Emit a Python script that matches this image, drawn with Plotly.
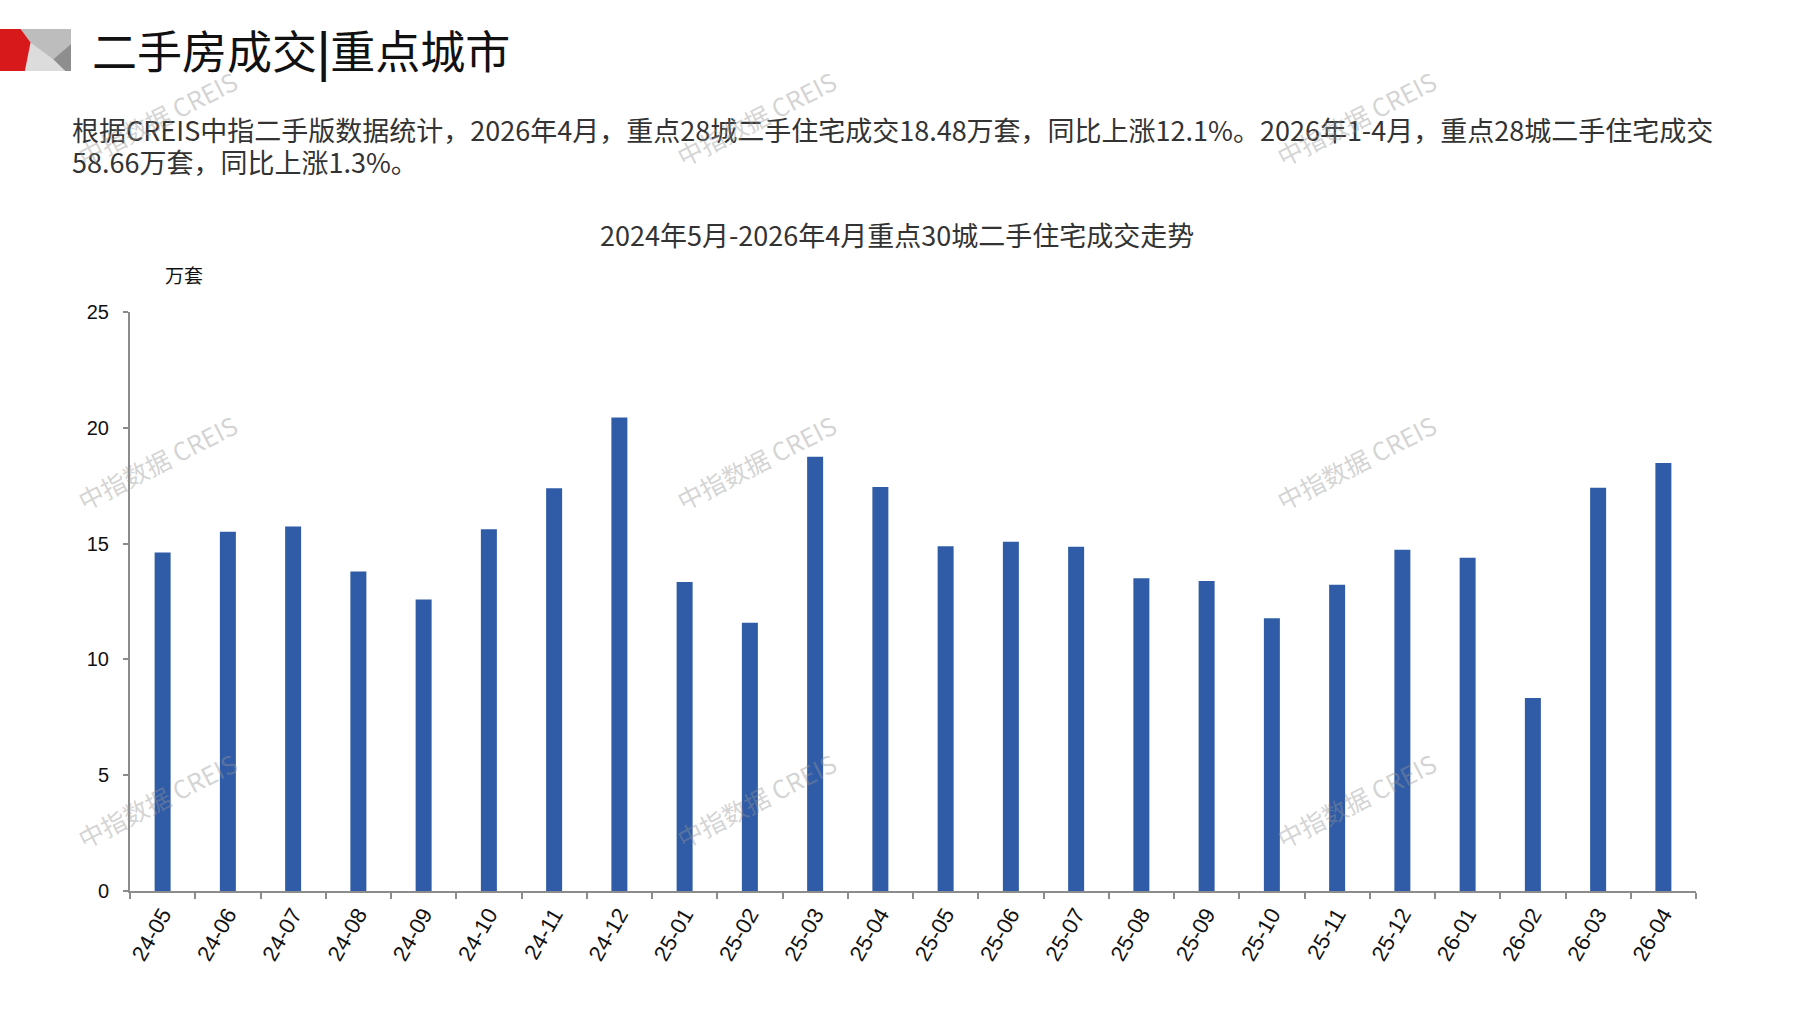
import plotly.graph_objects as go

# ---- data ----
months = ["24-05", "24-06", "24-07", "24-08", "24-09", "24-10", "24-11", "24-12",
          "25-01", "25-02", "25-03", "25-04", "25-05", "25-06", "25-07", "25-08",
          "25-09", "25-10", "25-11", "25-12", "26-01", "26-02", "26-03", "26-04"]
volumes = [14.62, 15.51, 15.74, 13.80, 12.59, 15.62, 17.39, 20.44,
           13.34, 11.58, 18.75, 17.44, 14.89, 15.08, 14.86, 13.50,
           13.38, 11.78, 13.22, 14.73, 14.39, 8.33, 17.41, 18.48]
y_ticks = [0, 5, 10, 15, 20, 25]

page_title = "二手房成交<b>|</b>重点城市"
paragraph_lines = [
    "根据CREIS中指二手版数据统计，2026年4月，重点28城二手住宅成交18.48万套，同比上涨12.1%。2026年1-4月，重点28城二手住宅成交",
    "58.66万套，同比上涨1.3%。",
]
chart_title = "2024年5月-2026年4月重点30城二手住宅成交走势"
unit_label = "万套"
watermark = "中指数据 CREIS"

# ---- layout geometry ----
W, H = 1797, 1010
ML, MR, MT, MB = 130, 101, 312, 119
PW, PH = W - ML - MR, H - MT - MB


def px(x):
    return (x - ML) / PW


def py(y):
    return (H - MB - y) / PH


AXIS = "#8c8c8c"
BAR = "#2F5BA7"
CJK = "Noto Sans CJK SC"

fig = go.Figure()
fig.add_trace(go.Bar(x=months, y=volumes, marker=dict(color=BAR, line=dict(width=0)),
                     width=0.245, hoverinfo="x+y"))

annotations = []
# page title
annotations.append(dict(x=px(90), y=py(49), xref="paper", yref="paper", xanchor="left", yanchor="middle",
                        text=page_title, showarrow=False,
                        font=dict(family=CJK, size=45, color="#111111")))
# paragraph
for i, line in enumerate(paragraph_lines):
    annotations.append(dict(x=px(70), y=py(129 + i * 33), xref="paper", yref="paper",
                            xanchor="left", yanchor="middle", text=line, showarrow=False,
                            font=dict(family=CJK, size=27, color="#333333")))
# chart title
annotations.append(dict(x=px(897), y=py(234), xref="paper", yref="paper", xanchor="center", yanchor="middle",
                        text=chart_title, showarrow=False,
                        font=dict(family=CJK, size=27, color="#333333")))
# unit
annotations.append(dict(x=px(184), y=py(274), xref="paper", yref="paper", xanchor="center", yanchor="middle",
                        text=unit_label, showarrow=False,
                        font=dict(family=CJK, size=19, color="#111111")))
# watermarks
for wx in (157, 756, 1356):
    for wy in (118, 462, 800):
        annotations.append(dict(x=px(wx), y=py(wy), xref="paper", yref="paper",
                                xanchor="center", yanchor="middle", text=watermark, showarrow=False,
                                textangle=-27,
                                font=dict(family=CJK, size=25, color="rgba(150,150,150,0.42)")))

# header icon shapes (pixel -> paper)
ix0, ix1, iy0, iy1 = 0, 71, 29, 71


def ic(u, v):
    return px(ix0 + u * (ix1 - ix0)), py(iy0 + v * (iy1 - iy0))


def path(pts):
    s = ""
    for k, (u, v) in enumerate(pts):
        x, y = ic(u, v)
        s += ("M" if k == 0 else "L") + f"{x:.5f},{y:.5f} "
    return s + "Z"


shapes = [
    dict(type="path", xref="paper", yref="paper", path=path([(0.2, 0), (1, 0), (1, 1), (0.2, 1)]),
         fillcolor="#dcdcdc", line=dict(width=0), layer="above"),
    dict(type="path", xref="paper", yref="paper",
         path=path([(0.29, 0), (1, 0), (1, 0.36), (0.75, 0.72), (0.43, 0.32)]),
         fillcolor="#bdbdbd", line=dict(width=0), layer="above"),
    dict(type="path", xref="paper", yref="paper",
         path=path([(1, 0.36), (0.75, 0.72), (0.92, 1), (1, 1)]),
         fillcolor="#8e8e8e", line=dict(width=0), layer="above"),
    dict(type="path", xref="paper", yref="paper",
         path=path([(0, 0), (0.29, 0), (0.43, 0.32), (0.35, 1), (0, 1)]),
         fillcolor="#d7191c", line=dict(width=0), layer="above"),
]

fig.update_layout(
    width=W, height=H, autosize=False,
    margin=dict(l=ML, r=MR, t=MT, b=MB, pad=0),
    paper_bgcolor="white", plot_bgcolor="white",
    showlegend=False,
    bargap=0.755,
    annotations=annotations,
    shapes=shapes,
    xaxis=dict(type="category", range=[-0.5, len(months) - 0.5],
               showline=True, linecolor=AXIS, linewidth=2,
               ticks="outside", tickson="boundaries", ticklen=6, tickcolor=AXIS, tickwidth=1.5,
               tickangle=-60, tickfont=dict(family="Liberation Sans, Arial", size=22, color="#111111"),
               showgrid=False, zeroline=False, fixedrange=True),
    yaxis=dict(range=[0, 25], tickvals=y_ticks, ticktext=[str(t) for t in y_ticks],
               showline=True, linecolor=AXIS, linewidth=2,
               ticks="outside", ticklen=5, tickcolor=AXIS, tickwidth=1.5,
               ticklabelstandoff=10,
               tickfont=dict(family="Liberation Sans, Arial", size=20, color="#111111"),
               showgrid=False, zeroline=False, fixedrange=True),
)

fig.write_html("out.html", config={"displayModeBar": False})
